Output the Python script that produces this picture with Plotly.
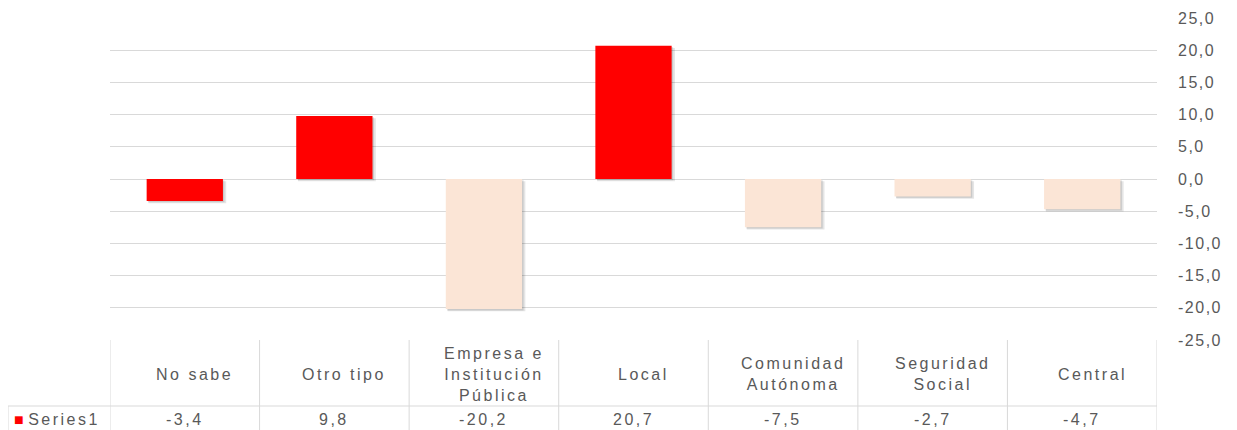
import plotly.graph_objects as go

# data
categories = ["No sabe", "Otro tipo", "Empresa e<br>Institución<br>Pública", "Local",
              "Comunidad<br>Autónoma", "Seguridad<br>Social", "Central"]
values = [-3.4, 9.8, -20.2, 20.7, -7.5, -2.7, -4.7]
bar_colors = ["#FF0000", "#FF0000", "#FBE5D6", "#FF0000", "#FBE5D6", "#FBE5D6", "#FBE5D6"]
series_name = "Series1"
y_ticks = [-25, -20, -15, -10, -5, 0, 5, 10, 15, 20, 25]
y_ticktext = [f"{t:.1f}".replace(".", ",") for t in y_ticks]

W, H = 1237, 430
OFF = 8  # page body margin
FONT = "Liberation Sans, Arial, sans-serif"
GRID = "#D9D9D9"
TXT = "#595959"


def wide(s, sp=2.5):
    return "<br>".join(f"<span style='letter-spacing:{sp}px'>{p}</span>" for p in s.split("<br>"))


# pixel helpers for paper coords (screen pixels)
px = lambda x: (x - OFF) / W
py = lambda y: 1 - (y - OFF) / H

n = len(categories)
xs = list(range(n))
bw = 0.51

fig = go.Figure()
# soft drop shadow under the bars
fig.add_trace(go.Bar(
    x=xs, y=values, base=[-0.35] * n, width=bw + 0.01, offset=-bw / 2 + 0.012,
    marker=dict(color="rgba(0,0,0,0.10)", line=dict(width=0)),
    showlegend=False, hoverinfo="skip",
))
fig.add_trace(go.Bar(
    x=xs, y=values, base=[-0.2] * n, width=bw, offset=-bw / 2 + 0.01,
    marker=dict(color="rgba(0,0,0,0.12)", line=dict(width=0)),
    showlegend=False, hoverinfo="skip",
))
fig.add_trace(go.Bar(
    x=xs, y=values, width=bw, offset=-bw / 2,
    marker=dict(color=bar_colors, line=dict(width=0)),
    name=series_name, showlegend=False, hoverinfo="y",
))

shapes = []
# table: vertical lines at category boundaries
for i in range(n + 1):
    shapes.append(dict(type="line", xref="x", yref="paper", x0=i - 0.5, x1=i - 0.5,
                       y0=py(440), y1=py(340), line=dict(color=GRID, width=1)))
# left column of table (series row)
shapes.append(dict(type="line", xref="paper", yref="paper", x0=px(8), x1=px(8),
                   y0=py(440), y1=py(406), line=dict(color=GRID, width=1)))
shapes.append(dict(type="line", xref="paper", yref="paper", x0=px(8), x1=px(1157),
                   y0=py(406), y1=py(406), line=dict(color=GRID, width=1)))

annotations = []
for i, (c, v) in enumerate(zip(categories, values)):
    annotations.append(dict(x=i, y=py(374), xref="x", yref="paper", text=wide(c), showarrow=False,
                            xshift=10, font=dict(family=FONT, size=16, color=TXT),
                            xanchor="center", yanchor="middle", align="center"))
    annotations.append(dict(x=i, y=py(419), xref="x", yref="paper",
                            text=wide(f"{v:.1f}".replace(".", ",")), showarrow=False,
                            font=dict(family=FONT, size=16, color=TXT),
                            xanchor="center", yanchor="middle"))
annotations.append(dict(x=px(12), y=py(419), xref="paper", yref="paper",
                        text=f"<span style='color:#FF0000'>■</span> " + wide(series_name),
                        showarrow=False, xanchor="left", yanchor="middle",
                        font=dict(family=FONT, size=16, color=TXT)))

fig.update_layout(
    width=W, height=H,
    margin=dict(l=0, r=0, t=0, b=0),
    paper_bgcolor="white", plot_bgcolor="white",
    barmode="overlay",
    xaxis=dict(domain=[px(110), px(1157)], range=[-0.5, n - 0.5], showticklabels=False,
               showgrid=False, zeroline=False, showline=False, fixedrange=True,
               automargin=False),
    yaxis=dict(domain=[py(340), py(18)], range=[-25, 25], side="right",
               tickmode="array", tickvals=y_ticks, ticktext=[wide(t, 1.5) for t in y_ticktext],
               showgrid=True, gridcolor=GRID, gridwidth=1,
               zeroline=True, zerolinecolor=GRID, zerolinewidth=1, showline=False,
               ticks="", ticklabelstandoff=20, automargin=False,
               tickfont=dict(family=FONT, size=16, color=TXT)),
    shapes=shapes, annotations=annotations,
)

fig.write_html("out.html")
